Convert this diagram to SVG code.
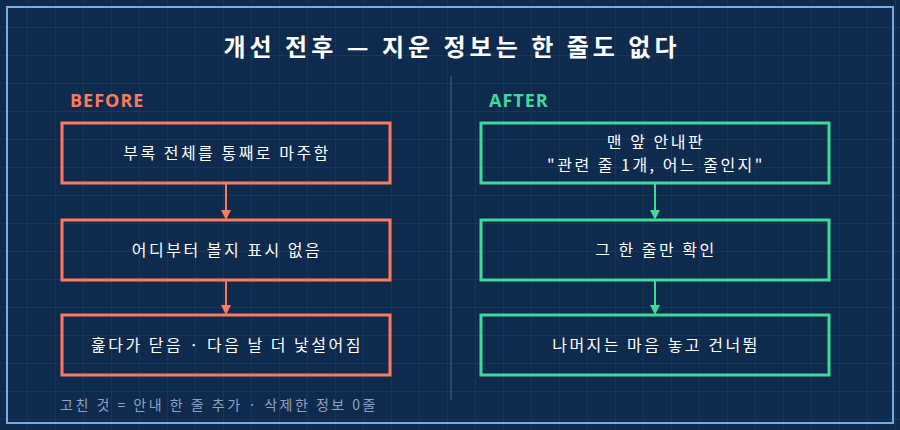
<svg xmlns="http://www.w3.org/2000/svg" width="900" height="430" viewBox="0 0 900 430">
<defs>
<pattern id="grid" width="28" height="28" patternUnits="userSpaceOnUse"><path d="M28 0V28H0" fill="none" stroke="#21406a" stroke-width="1"/></pattern>
<marker id="ac" markerWidth="10" markerHeight="10" refX="8" refY="5" orient="auto" markerUnits="userSpaceOnUse"><path d="M0,0L10,5L0,10z" fill="#ff7a5c"/></marker>
<marker id="ag" markerWidth="10" markerHeight="10" refX="8" refY="5" orient="auto" markerUnits="userSpaceOnUse"><path d="M0,0L10,5L0,10z" fill="#3fd99a"/></marker>
</defs>
<style>
text{font-family:"Noto Sans CJK KR","Noto Sans",sans-serif;fill:#ffffff;text-anchor:middle}
.b{fill:none;stroke:#ff7a5c;stroke-width:3}
.a{fill:none;stroke:#3fd99a;stroke-width:3}
.t{font-size:16px;letter-spacing:2.5px}
</style>
<rect width="900" height="430" fill="#0e2a4d"/>
<rect width="900" height="430" fill="url(#grid)"/>
<rect x="7" y="7" width="886" height="416" fill="none" stroke="#79ace0" stroke-width="2"/>
<text x="452" y="56" font-size="24" font-weight="bold" letter-spacing="4">개선 전후 — 지운 정보는 한 줄도 없다</text>
<line x1="451" y1="76" x2="451" y2="400" stroke="#2f5080" stroke-width="1.5"/>
<text x="70" y="107" font-size="18" font-weight="bold" letter-spacing="1" style="fill:#ff7a5c;text-anchor:start;font-family:'Open Sans',sans-serif">BEFORE</text>
<text x="489" y="107" font-size="18" font-weight="bold" letter-spacing="1" style="fill:#3fd99a;text-anchor:start;font-family:'Open Sans',sans-serif">AFTER</text>
<g id="connectors">
<line x1="226" y1="184" x2="226" y2="218" stroke="#ff7a5c" stroke-width="2" marker-end="url(#ac)"/>
<line x1="226" y1="280" x2="226" y2="313" stroke="#ff7a5c" stroke-width="2" marker-end="url(#ac)"/>
<line x1="655" y1="184" x2="655" y2="218" stroke="#3fd99a" stroke-width="2" marker-end="url(#ag)"/>
<line x1="655" y1="280" x2="655" y2="313" stroke="#3fd99a" stroke-width="2" marker-end="url(#ag)"/>
</g>
<g id="b1"><rect class="b" x="62" y="123" width="328" height="60"/><text class="t" x="227" y="159">부록 전체를 통째로 마주함</text></g>
<g id="b2"><rect class="b" x="62" y="220" width="328" height="60"/><text class="t" x="227" y="256">어디부터 볼지 표시 없음</text></g>
<g id="b3"><rect class="b" x="62" y="315" width="328" height="60"/><text class="t" x="227" y="351">훑다가 닫음 · 다음 날 더 낯설어짐</text></g>
<g id="a1"><rect class="a" x="481" y="123" width="348" height="60"/><text class="t" x="656" y="148">맨 앞 안내판</text><text class="t" x="656" y="171">"관련 줄 1개, 어느 줄인지"</text></g>
<g id="a2"><rect class="a" x="481" y="220" width="348" height="60"/><text class="t" x="656" y="256">그 한 줄만 확인</text></g>
<g id="a3"><rect class="a" x="481" y="315" width="348" height="60"/><text class="t" x="656" y="351">나머지는 마음 놓고 건너뜀</text></g>
<text x="60" y="410" font-size="14" letter-spacing="2.5" style="fill:#8ea3bf;text-anchor:start">고친 것 = 안내 한 줄 추가 · 삭제한 정보 0줄</text>
</svg>
